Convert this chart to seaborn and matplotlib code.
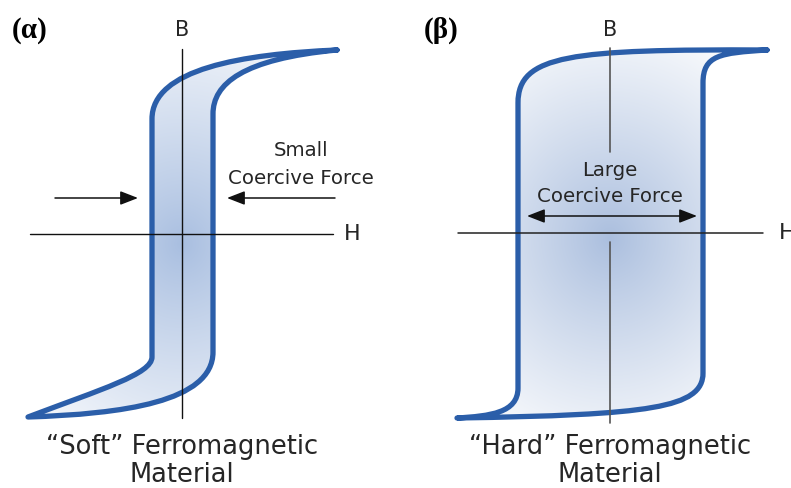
import numpy as np
import matplotlib
matplotlib.use("Agg")
import matplotlib.pyplot as plt
from matplotlib.path import Path
from matplotlib.patches import PathPatch
import seaborn as sns

sns.set_theme(style="white")
plt.rcParams["font.family"] = ["DejaVu Sans"]

# ---- hysteresis loops in (H, B) units, origin at the axis crossing ----
# vertices and path codes: M = move, L = line, C = cubic Bezier control/end point
soft_H = [155, 60, -30, -30, -30, -30, -80, -154,
          -60, 31, 31, 31, 31, 60, 155]
soft_B = [184, 180, 165, 115, -123, -140, -155, -183,
          -180, -168, -118, 120, 150, 175, 184]
soft_codes = ["M", "C", "C", "C", "L", "C", "C", "C",
              "C", "C", "C", "L", "C", "C", "C"]

hard_H = [157, -40, -92, -92, -92, -92, -120, -153,
          40, 93, 93, 93, 93, 110, 157]
hard_B = [183, 184, 178, 130, -155, -180, -183, -185,
          -182, -175, -140, 150, 178, 180, 183]
hard_codes = ["M", "C", "C", "C", "L", "C", "C", "C",
              "C", "C", "C", "L", "C", "C", "C"]

# axis extents
axis_H = [-152, 151]
axis_B = [185, -184]
hard_axis_H = [-152, 153]
hard_B_upper = [185, 81]
hard_B_lower = [-9, -190]

panel_tags = ["(α)", "(β)"]
titles = [["\u201cSoft\u201d Ferromagnetic", "Material"],
          ["\u201cHard\u201d Ferromagnetic", "Material"]]

LOOP_COLOR = "#2b5ea9"
TEXT_COLOR = "#262626"
CODE_MAP = {"M": Path.MOVETO, "L": Path.LINETO, "C": Path.CURVE4, "Q": Path.CURVE3}


def loop_path(hs, bs, codes):
    verts = np.column_stack([hs, bs]).astype(float)
    return Path(verts, [CODE_MAP[c] for c in codes])


def radial_fill(ax, path, xlim, ylim, center_rgb, radius, cy=0.0, power=1.0):
    xs = np.linspace(xlim[0], xlim[1], 400)
    ys = np.linspace(ylim[1], ylim[0], 500)
    X, Y = np.meshgrid(xs, ys)
    r = np.sqrt(X ** 2 + ((Y - cy) * 0.9) ** 2) / radius
    t = np.clip(r, 0, 1) ** power
    c = np.array(center_rgb) / 255.0
    img = c[None, None, :] * (1 - t[..., None]) + t[..., None] * 1.0
    im = ax.imshow(img, extent=[xlim[0], xlim[1], ylim[0], ylim[1]],
                   origin="upper", zorder=1, interpolation="bilinear", aspect="auto")
    clip = PathPatch(path, transform=ax.transData, facecolor="none", edgecolor="none")
    ax.add_patch(clip)
    im.set_clip_path(clip)


W, H_PX = 791, 488
fig = plt.figure(figsize=(W / 100, H_PX / 100), dpi=100)

# left panel: origin at pixel (182, 234); right panel: origin at pixel (610, 233)
axL = fig.add_axes([0, 0, 395 / W, 1])
axR = fig.add_axes([395 / W, 0, 396 / W, 1])
limsL = ((-182, 213), (-254, 234))
limsR = ((-215, 181), (-255, 233))

for ax, (xl, yl) in ((axL, limsL), (axR, limsR)):
    ax.set_xlim(*xl)
    ax.set_ylim(*yl)
    ax.set_axis_off()

# ---- soft loop ----
pS = loop_path(soft_H, soft_B, soft_codes)
radial_fill(axL, pS, *limsL, center_rgb=(168, 190, 224), radius=240, cy=-10, power=0.9)
axL.add_patch(PathPatch(pS, facecolor="none", edgecolor=LOOP_COLOR, lw=3.8,
                        joinstyle="round", capstyle="round", zorder=3))
sns.lineplot(x=axis_H, y=[0, 0], ax=axL, color="#111111", lw=1.0, zorder=4)
sns.lineplot(x=[0, 0], y=axis_B, ax=axL, color="#111111", lw=1.0, zorder=4,
             sort=False, estimator=None)

# ---- hard loop ----
pH = loop_path(hard_H, hard_B, hard_codes)
radial_fill(axR, pH, *limsR, center_rgb=(170, 190, 222), radius=220, cy=-5, power=0.9)
axR.add_patch(PathPatch(pH, facecolor="none", edgecolor=LOOP_COLOR, lw=3.8,
                        joinstyle="round", capstyle="round", zorder=3))
sns.lineplot(x=hard_axis_H, y=[0, 0], ax=axR, color="#222222", lw=1.1, zorder=4)
sns.lineplot(x=[0, 0], y=hard_B_upper, ax=axR, color="#555555", lw=1.2, zorder=4,
             sort=False, estimator=None)
sns.lineplot(x=[0, 0], y=hard_B_lower, ax=axR, color="#555555", lw=1.2, zorder=4,
             sort=False, estimator=None)

# ---- labels ----
for ax, tag, tx, ty in ((axL, panel_tags[0], -170, 203), (axR, panel_tags[1], -186, 203)):
    ax.text(tx, ty, tag, family=["Liberation Serif", "DejaVu Serif"], fontweight="bold",
            fontsize=21, color="black", ha="left", va="center", zorder=5)

axL.text(0, 204, "B", fontsize=15, color=TEXT_COLOR, ha="center", va="center", zorder=5)
axR.text(0, 203, "B", fontsize=15, color=TEXT_COLOR, ha="center", va="center", zorder=5)

for ax, lines, y0 in ((axL, titles[0], -213), (axR, titles[1], -214)):
    ax.text(0, y0, lines[0], fontsize=18.5, color=TEXT_COLOR, ha="center", va="center", zorder=5)
    ax.text(0, y0 - 28, lines[1], fontsize=18.5, color=TEXT_COLOR, ha="center", va="center",
            zorder=5)

axL.text(162, 0, "H", fontsize=16, color=TEXT_COLOR, ha="left", va="center", zorder=5)
axR.text(169, 0, "H", fontsize=16, color=TEXT_COLOR, ha="left", va="center", zorder=5,
         clip_on=False)

axL.text(119, 84, "Small", fontsize=14.2, color=TEXT_COLOR, ha="center", va="center", zorder=5)
axL.text(119, 56, "Coercive Force", fontsize=14.2, color=TEXT_COLOR, ha="center", va="center",
         zorder=5)
axR.text(0, 62, "Large", fontsize=14.2, color=TEXT_COLOR, ha="center", va="center", zorder=5)
axR.text(0, 36, "Coercive Force", fontsize=14.2, color=TEXT_COLOR, ha="center", va="center",
         zorder=5)

arrow_kw = dict(arrowstyle="-|>,head_length=0.9,head_width=0.35", color="#111111", lw=1.1,
                shrinkA=0, shrinkB=0)
axL.annotate("", xy=(-44, 36), xytext=(-127, 36), arrowprops=arrow_kw, zorder=5)
axL.annotate("", xy=(45, 36), xytext=(153, 36), arrowprops=arrow_kw, zorder=5)
axR.annotate("", xy=(-83, 17), xytext=(87, 17),
             arrowprops=dict(arrow_kw, arrowstyle="<|-|>,head_length=0.9,head_width=0.35"),
             zorder=5)

fig.savefig("out.png", dpi=100)
